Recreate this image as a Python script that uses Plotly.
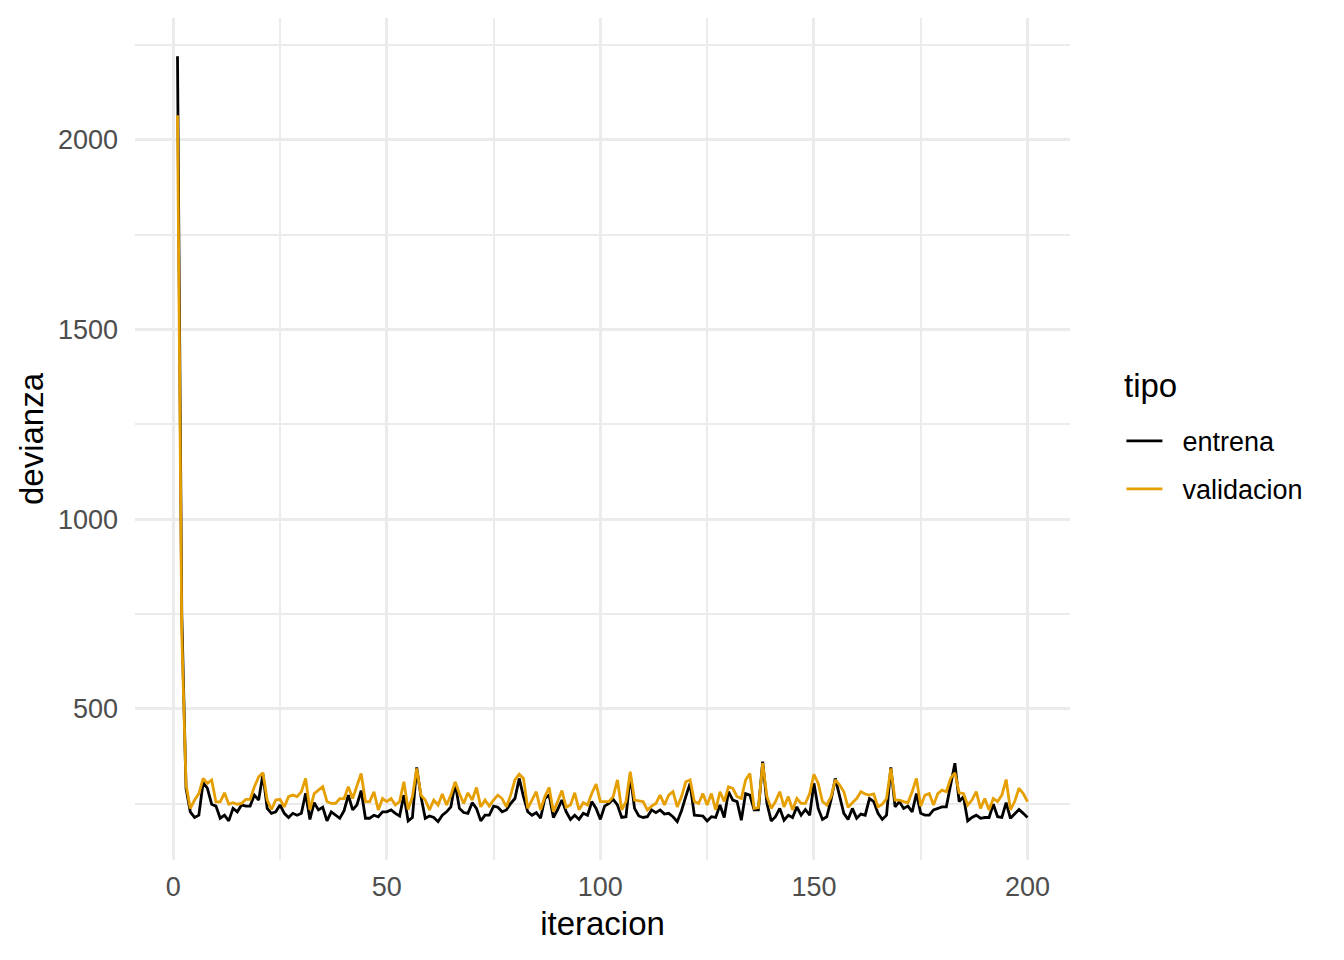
import plotly.graph_objects as go

iteracion = list(range(1, 201))

entrena = [
    2220, 750, 290, 229, 214, 220, 306, 291, 249, 244,
    212, 220, 205, 238, 229, 247, 244, 244, 273, 260,
    328, 238, 225, 229, 247, 225, 214, 225, 220, 225,
    278, 209, 253, 234, 241, 205, 229, 220, 212, 232,
    273, 234, 247, 285, 212, 212, 220, 216, 229, 229,
    234, 225, 218, 273, 205, 214, 346, 269, 212, 218,
    214, 203, 220, 229, 242, 304, 238, 227, 225, 253,
    238, 205, 220, 220, 244, 241, 229, 234, 251, 264,
    317, 269, 229, 220, 227, 212, 264, 273, 214, 235,
    260, 229, 209, 220, 209, 225, 220, 256, 238, 209,
    244, 251, 262, 247, 214, 216, 326, 238, 218, 214,
    216, 234, 227, 234, 223, 225, 216, 203, 232, 269,
    304, 220, 218, 218, 205, 216, 214, 247, 214, 282,
    260, 256, 207, 277, 273, 234, 234, 361, 251, 205,
    216, 238, 207, 220, 214, 242, 220, 235, 220, 304,
    238, 209, 216, 260, 317, 269, 225, 209, 238, 212,
    223, 220, 264, 256, 225, 209, 220, 346, 242, 256,
    238, 244, 229, 277, 225, 220, 220, 234, 238, 242,
    242, 295, 357, 256, 269, 205, 214, 220, 212, 214,
    214, 249, 216, 214, 253, 212, 225, 235, 225, 214,
]

validacion = [
    2065, 700, 300, 238, 260, 277, 317, 304, 313, 255,
    255, 279, 249, 253, 249, 251, 262, 262, 295, 321,
    332, 260, 235, 260, 262, 242, 269, 273, 269, 282,
    317, 234, 277, 286, 295, 256, 251, 251, 264, 264,
    295, 264, 300, 330, 256, 256, 282, 234, 264, 256,
    264, 247, 256, 308, 235, 269, 343, 273, 260, 234,
    260, 247, 276, 247, 273, 308, 277, 251, 279, 260,
    293, 242, 260, 244, 260, 273, 264, 242, 273, 313,
    328, 317, 238, 260, 282, 234, 269, 293, 229, 256,
    285, 241, 247, 279, 234, 253, 247, 278, 302, 256,
    256, 256, 269, 313, 234, 256, 335, 260, 258, 256,
    234, 244, 251, 273, 247, 273, 282, 242, 269, 308,
    313, 256, 251, 277, 247, 277, 234, 282, 256, 295,
    291, 269, 264, 313, 330, 238, 240, 357, 269, 238,
    256, 282, 242, 269, 234, 264, 251, 251, 277, 328,
    304, 256, 247, 269, 313, 300, 282, 241, 253, 264,
    282, 276, 273, 276, 242, 249, 264, 343, 260, 260,
    256, 253, 282, 317, 244, 273, 277, 247, 277, 286,
    282, 317, 332, 279, 277, 247, 260, 282, 238, 264,
    234, 264, 256, 273, 314, 234, 256, 291, 277, 256,
]

series_names = ["entrena", "validacion"]
series_colors = ["#000000", "#E69F00"]
legend_title = "tipo"

FONT = "Liberation Sans, Arial, Helvetica, sans-serif"
PAD = "\u00a0\u00a0"

fig = go.Figure()
for name, vals, col in zip(series_names, [entrena, validacion], series_colors):
    fig.add_trace(go.Scatter(
        x=iteracion, y=vals, mode="lines", name=PAD + name, legendgroup=name,
        line=dict(color=col, width=2.8),
    ))

grid_major = "#EBEBEB"

fig.add_annotation(
    text=legend_title, xref="paper", yref="paper", x=1.0556, y=0.563,
    xanchor="left", yanchor="middle", showarrow=False,
    font=dict(size=33, color="#000000", family=FONT),
)

fig.update_layout(
    width=1336, height=952,
    paper_bgcolor="white", plot_bgcolor="white",
    margin=dict(l=127, r=274, t=10, b=100, autoexpand=False),
    font=dict(family=FONT, size=27, color="#4D4D4D"),
    showlegend=True,
    legend=dict(
        font=dict(size=27, color="#000000", family=FONT),
        x=1.055, xanchor="left", y=0.5264, yanchor="top",
        bgcolor="rgba(0,0,0,0)", tracegroupgap=10, itemwidth=36,
    ),
    xaxis=dict(
        range=[-8.95, 209.95], tick0=0, dtick=50, showgrid=True,
        gridcolor=grid_major, gridwidth=2.7, zeroline=False, showline=False,
        ticks="", ticklabelstandoff=8,
        tickfont=dict(size=27, color="#4D4D4D", family=FONT),
        minor=dict(tick0=0, dtick=25, showgrid=True, gridcolor=grid_major, gridwidth=1.6),
        title=dict(text="iteracion", font=dict(size=33, color="#000000", family=FONT), standoff=10),
    ),
    yaxis=dict(
        range=[102, 2321], tick0=0, dtick=500, showgrid=True,
        gridcolor=grid_major, gridwidth=2.7, zeroline=False, showline=False,
        ticks="", ticklabelstandoff=16,
        tickfont=dict(size=27, color="#4D4D4D", family=FONT),
        minor=dict(tick0=0, dtick=250, showgrid=True, gridcolor=grid_major, gridwidth=1.6),
        title=dict(text="devianza", font=dict(size=33, color="#000000", family=FONT), standoff=4),
    ),
)

fig.write_html("out.html")
